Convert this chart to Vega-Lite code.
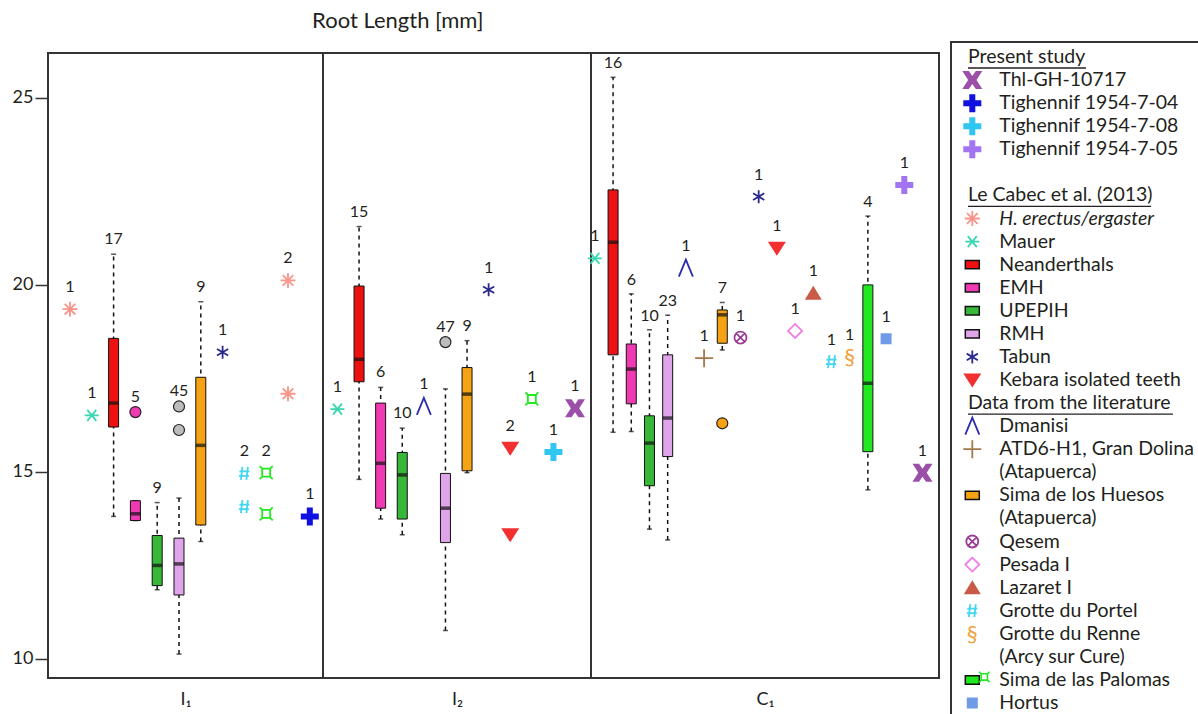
{
"$schema": "https://vega.github.io/schema/vega-lite/v6.json",
"padding": {"left": 11, "top": 10, "right": 0, "bottom": 0},
"background": "white",
"title": {"text": "Root Length [mm]", "anchor": "start", "frame": "bounds", "dx": 301, "fontSize": 22, "fontWeight": "normal", "color": "#231f20", "offset": 8},
"config": {"font": "Lato", "view": {"stroke": "#333333", "strokeWidth": 2}, "text": {"font": "Lato"}, "axis": {"labelFont": "Lato", "titleFont": "Lato"}},
"datasets": {
"boxes": [
{"tooth":"I1","slot":"Nea","group":"Neanderthals","lo":13.81,"q1":16.2,"med":16.84,"q3":18.57,"hi":20.82},
{"tooth":"I1","slot":"EMH","group":"EMH","lo":13.7,"q1":13.7,"med":13.88,"q3":14.23,"hi":14.23},
{"tooth":"I1","slot":"UPEPIH","group":"UPEPIH","lo":11.85,"q1":11.96,"med":12.5,"q3":13.3,"hi":14.18},
{"tooth":"I1","slot":"RMH","group":"RMH","lo":10.13,"q1":11.71,"med":12.54,"q3":13.23,"hi":14.3},
{"tooth":"I1","slot":"SH","group":"Sima de los Huesos","lo":13.14,"q1":13.58,"med":15.71,"q3":17.53,"hi":19.55},
{"tooth":"I2","slot":"Nea","group":"Neanderthals","lo":14.8,"q1":17.41,"med":18.01,"q3":19.97,"hi":21.56},
{"tooth":"I2","slot":"EMH","group":"EMH","lo":13.74,"q1":14.03,"med":15.23,"q3":16.84,"hi":17.26},
{"tooth":"I2","slot":"UPEPIH","group":"UPEPIH","lo":13.32,"q1":13.74,"med":14.92,"q3":15.52,"hi":16.17},
{"tooth":"I2","slot":"RMH","group":"RMH","lo":10.76,"q1":13.11,"med":14.03,"q3":14.96,"hi":17.22},
{"tooth":"I2","slot":"SH","group":"Sima de los Huesos","lo":14.98,"q1":15.03,"med":17.08,"q3":17.79,"hi":18.51},
{"tooth":"C1","slot":"Nea","group":"Neanderthals","lo":16.06,"q1":18.13,"med":21.14,"q3":22.54,"hi":25.55},
{"tooth":"C1","slot":"EMH","group":"EMH","lo":16.08,"q1":16.82,"med":17.75,"q3":18.42,"hi":19.76},
{"tooth":"C1","slot":"UPEPIH","group":"UPEPIH","lo":13.47,"q1":14.63,"med":15.77,"q3":16.5,"hi":18.8},
{"tooth":"C1","slot":"RMH","group":"RMH","lo":13.18,"q1":15.41,"med":16.44,"q3":18.13,"hi":19.19},
{"tooth":"C1","slot":"SH","group":"Sima de los Huesos","lo":18.26,"q1":18.44,"med":19.2,"q3":19.33,"hi":19.53},
{"tooth":"C1","slot":"Palomas","group":"Sima de las Palomas","lo":14.52,"q1":15.54,"med":17.37,"q3":20.0,"hi":21.84}
],
"points": [
{"tooth":"I1","slot":"erA","group":"H. erectus/ergaster","value":19.35},
{"tooth":"I1","slot":"Mauer","group":"Mauer","value":16.51},
{"tooth":"I1","slot":"Tabun","group":"Tabun","value":18.2},
{"tooth":"I1","slot":"Portel","group":"Grotte du Portel","value":14.96},
{"tooth":"I1","slot":"Portel","group":"Grotte du Portel","value":14.07},
{"tooth":"I1","slot":"Palomas","group":"Sima de las Palomas","value":14.98},
{"tooth":"I1","slot":"Palomas","group":"Sima de las Palomas","value":13.88},
{"tooth":"I1","slot":"erB","group":"H. erectus/ergaster","value":20.12},
{"tooth":"I1","slot":"erB","group":"H. erectus/ergaster","value":17.09},
{"tooth":"I1","slot":"T04","group":"Tighennif 1954-7-04","value":13.81},
{"tooth":"I2","slot":"Mauer","group":"Mauer","value":16.68},
{"tooth":"I2","slot":"Dmanisi","group":"Dmanisi","value":16.75},
{"tooth":"I2","slot":"Tabun","group":"Tabun","value":19.87},
{"tooth":"I2","slot":"Kebara","group":"Kebara isolated teeth","value":15.63},
{"tooth":"I2","slot":"Kebara","group":"Kebara isolated teeth","value":13.32},
{"tooth":"I2","slot":"Palomas","group":"Sima de las Palomas","value":16.95},
{"tooth":"I2","slot":"T08","group":"Tighennif 1954-7-08","value":15.53},
{"tooth":"I2","slot":"Thl","group":"Thl-GH-10717","value":16.7},
{"tooth":"C1","slot":"Mauer","group":"Mauer","value":20.71},
{"tooth":"C1","slot":"Dmanisi","group":"Dmanisi","value":20.45},
{"tooth":"C1","slot":"ATD6","group":"ATD6-H1, Gran Dolina","value":18.04},
{"tooth":"C1","slot":"Qesem","group":"Qesem","value":18.59},
{"tooth":"C1","slot":"Tabun","group":"Tabun","value":22.36},
{"tooth":"C1","slot":"Kebara","group":"Kebara isolated teeth","value":20.98},
{"tooth":"C1","slot":"Pesada","group":"Pesada I","value":18.77},
{"tooth":"C1","slot":"Lazaret","group":"Lazaret I","value":19.78},
{"tooth":"C1","slot":"Portel","group":"Grotte du Portel","value":17.95},
{"tooth":"C1","slot":"Renne","group":"Grotte du Renne","value":18.07},
{"tooth":"C1","slot":"Hortus","group":"Hortus","value":18.56},
{"tooth":"C1","slot":"T05","group":"Tighennif 1954-7-05","value":22.67},
{"tooth":"C1","slot":"Thl","group":"Thl-GH-10717","value":14.98}
],
"outliers": [
{"tooth":"I1","slot":"EMH","group":"EMH","value":16.6},
{"tooth":"I1","slot":"RMH","group":"RMH","value":16.75},
{"tooth":"I1","slot":"RMH","group":"RMH","value":16.12},
{"tooth":"I2","slot":"RMH","group":"RMH","value":18.47},
{"tooth":"C1","slot":"SH","group":"Sima de los Huesos","value":16.3}
],
"labels": [
{"tooth":"I1","slot":"erA","group":"H. erectus/ergaster","n":1,"at":19.35},
{"tooth":"I1","slot":"Mauer","group":"Mauer","n":1,"at":16.51},
{"tooth":"I1","slot":"Nea","group":"Neanderthals","n":17,"at":20.82},
{"tooth":"I1","slot":"EMH","group":"EMH","n":5,"at":16.6},
{"tooth":"I1","slot":"UPEPIH","group":"UPEPIH","n":9,"at":14.18},
{"tooth":"I1","slot":"RMH","group":"RMH","n":45,"at":16.75},
{"tooth":"I1","slot":"SH","group":"Sima de los Huesos","n":9,"at":19.55},
{"tooth":"I1","slot":"Tabun","group":"Tabun","n":1,"at":18.2},
{"tooth":"I1","slot":"Portel","group":"Grotte du Portel","n":2,"at":14.96},
{"tooth":"I1","slot":"Palomas","group":"Sima de las Palomas","n":2,"at":14.98},
{"tooth":"I1","slot":"erB","group":"H. erectus/ergaster","n":2,"at":20.12},
{"tooth":"I1","slot":"T04","group":"Tighennif 1954-7-04","n":1,"at":13.81},
{"tooth":"I2","slot":"Mauer","group":"Mauer","n":1,"at":16.68},
{"tooth":"I2","slot":"Nea","group":"Neanderthals","n":15,"at":21.56},
{"tooth":"I2","slot":"EMH","group":"EMH","n":6,"at":17.26},
{"tooth":"I2","slot":"UPEPIH","group":"UPEPIH","n":10,"at":16.17},
{"tooth":"I2","slot":"Dmanisi","group":"Dmanisi","n":1,"at":16.75},
{"tooth":"I2","slot":"RMH","group":"RMH","n":47,"at":18.47},
{"tooth":"I2","slot":"SH","group":"Sima de los Huesos","n":9,"at":18.51},
{"tooth":"I2","slot":"Tabun","group":"Tabun","n":1,"at":19.87},
{"tooth":"I2","slot":"Kebara","group":"Kebara isolated teeth","n":2,"at":15.63},
{"tooth":"I2","slot":"Palomas","group":"Sima de las Palomas","n":1,"at":16.95},
{"tooth":"I2","slot":"T08","group":"Tighennif 1954-7-08","n":1,"at":15.53},
{"tooth":"I2","slot":"Thl","group":"Thl-GH-10717","n":1,"at":16.7},
{"tooth":"C1","slot":"Mauer","group":"Mauer","n":1,"at":20.71},
{"tooth":"C1","slot":"Nea","group":"Neanderthals","n":16,"at":25.55},
{"tooth":"C1","slot":"EMH","group":"EMH","n":6,"at":19.76},
{"tooth":"C1","slot":"UPEPIH","group":"UPEPIH","n":10,"at":18.8},
{"tooth":"C1","slot":"RMH","group":"RMH","n":23,"at":19.19},
{"tooth":"C1","slot":"Dmanisi","group":"Dmanisi","n":1,"at":20.45},
{"tooth":"C1","slot":"ATD6","group":"ATD6-H1, Gran Dolina","n":1,"at":18.04},
{"tooth":"C1","slot":"SH","group":"Sima de los Huesos","n":7,"at":19.53},
{"tooth":"C1","slot":"Qesem","group":"Qesem","n":1,"at":18.59},
{"tooth":"C1","slot":"Tabun","group":"Tabun","n":1,"at":22.36},
{"tooth":"C1","slot":"Kebara","group":"Kebara isolated teeth","n":1,"at":20.98},
{"tooth":"C1","slot":"Pesada","group":"Pesada I","n":1,"at":18.77},
{"tooth":"C1","slot":"Lazaret","group":"Lazaret I","n":1,"at":19.78},
{"tooth":"C1","slot":"Portel","group":"Grotte du Portel","n":1,"at":17.95},
{"tooth":"C1","slot":"Renne","group":"Grotte du Renne","n":1,"at":18.07},
{"tooth":"C1","slot":"Palomas","group":"Sima de las Palomas","n":4,"at":21.84},
{"tooth":"C1","slot":"Hortus","group":"Hortus","n":1,"at":18.56},
{"tooth":"C1","slot":"T05","group":"Tighennif 1954-7-05","n":1,"at":22.67},
{"tooth":"C1","slot":"Thl","group":"Thl-GH-10717","n":1,"at":14.98}
],
"legend": [
{"key":"Present study","text":"Present study","kind":"head","group":null},
{"key":"Thl-GH-10717","text":"Thl-GH-10717","kind":"item","group":"Thl-GH-10717"},
{"key":"Tighennif 1954-7-04","text":"Tighennif 1954-7-04","kind":"item","group":"Tighennif 1954-7-04"},
{"key":"Tighennif 1954-7-08","text":"Tighennif 1954-7-08","kind":"item","group":"Tighennif 1954-7-08"},
{"key":"Tighennif 1954-7-05","text":"Tighennif 1954-7-05","kind":"item","group":"Tighennif 1954-7-05"},
{"key":"Le Cabec et al. (2013)","text":"Le Cabec et al. (2013)","kind":"head","group":null},
{"key":"H. erectus/ergaster","text":"H. erectus/ergaster","kind":"italic","group":"H. erectus/ergaster"},
{"key":"Mauer","text":"Mauer","kind":"item","group":"Mauer"},
{"key":"Neanderthals","text":"Neanderthals","kind":"item","group":"Neanderthals"},
{"key":"EMH","text":"EMH","kind":"item","group":"EMH"},
{"key":"UPEPIH","text":"UPEPIH","kind":"item","group":"UPEPIH"},
{"key":"RMH","text":"RMH","kind":"item","group":"RMH"},
{"key":"Tabun","text":"Tabun","kind":"item","group":"Tabun"},
{"key":"Kebara isolated teeth","text":"Kebara isolated teeth","kind":"item","group":"Kebara isolated teeth"},
{"key":"Data from the literature","text":"Data from the literature","kind":"head","group":null},
{"key":"Dmanisi","text":"Dmanisi","kind":"item","group":"Dmanisi"},
{"key":"ATD6-H1, Gran Dolina","text":"ATD6-H1, Gran Dolina","kind":"item","group":"ATD6-H1, Gran Dolina"},
{"key":"(Atapuerca) a","text":"(Atapuerca)","kind":"cont","group":null},
{"key":"Sima de los Huesos","text":"Sima de los Huesos","kind":"item","group":"Sima de los Huesos"},
{"key":"(Atapuerca) b","text":"(Atapuerca)","kind":"cont","group":null},
{"key":"Qesem","text":"Qesem","kind":"item","group":"Qesem"},
{"key":"Pesada I","text":"Pesada I","kind":"item","group":"Pesada I"},
{"key":"Lazaret I","text":"Lazaret I","kind":"item","group":"Lazaret I"},
{"key":"Grotte du Portel","text":"Grotte du Portel","kind":"item","group":"Grotte du Portel"},
{"key":"Grotte du Renne","text":"Grotte du Renne","kind":"item","group":"Grotte du Renne"},
{"key":"(Arcy sur Cure)","text":"(Arcy sur Cure)","kind":"cont","group":null},
{"key":"Sima de las Palomas","text":"Sima de las Palomas","kind":"item","group":"Sima de las Palomas"},
{"key":"Hortus","text":"Hortus","kind":"item","group":"Hortus"}
]
},
"hconcat": [
{"hconcat": [
{"width": 275, "height": 625,
 "encoding": {"x": {"field": "slot", "type": "nominal", "scale": {"type": "point", "domain": ["erA","Mauer","Nea","EMH","UPEPIH","RMH","SH","Tabun","Portel","Palomas","erB","T04"], "padding": 0.807, "align": 0.625}, "axis": {"title": "I₁", "labels": false, "ticks": false, "domain": false, "titleFontSize": 18, "titleFontWeight": "normal", "titleColor": "#231f20", "titlePadding": 12}}},
 "layer": [
  {"data": {"name": "boxes"}, "transform": [{"filter": "datum.tooth === 'I1'"}], "mark": {"type": "rule", "strokeDash": [4, 4], "color": "#111111", "strokeWidth": 1.5}, "encoding": {"y": {"field": "lo", "type": "quantitative", "scale": {"domain": [9.49, 26.2], "nice": false, "zero": false}, "axis": {"values": [10, 15, 20, 25], "title": null, "grid": false, "domain": false, "tickSize": 13, "tickWidth": 1.5, "tickColor": "#333333", "labelFontSize": 18, "labelColor": "#231f20", "labelPadding": 2}}, "y2": {"field": "hi"}}},
  {"data": {"name": "boxes"}, "transform": [{"filter": "datum.tooth === 'I1'"}], "mark": {"type": "tick", "color": "#111111", "size": 5, "thickness": 1.5}, "encoding": {"y": {"field": "lo", "type": "quantitative", "scale": {"domain": [9.49, 26.2], "nice": false, "zero": false}, "axis": {"values": [10, 15, 20, 25], "title": null, "grid": false, "domain": false, "tickSize": 13, "tickWidth": 1.5, "tickColor": "#333333", "labelFontSize": 18, "labelColor": "#231f20", "labelPadding": 2}}}},
  {"data": {"name": "boxes"}, "transform": [{"filter": "datum.tooth === 'I1'"}], "mark": {"type": "tick", "color": "#111111", "size": 5, "thickness": 1.5}, "encoding": {"y": {"field": "hi", "type": "quantitative", "scale": {"domain": [9.49, 26.2], "nice": false, "zero": false}, "axis": {"values": [10, 15, 20, 25], "title": null, "grid": false, "domain": false, "tickSize": 13, "tickWidth": 1.5, "tickColor": "#333333", "labelFontSize": 18, "labelColor": "#231f20", "labelPadding": 2}}}},
  {"data": {"name": "boxes"}, "transform": [{"filter": "datum.tooth === 'I1'"}], "mark": {"type": "bar", "size": 10, "stroke": "#111111", "strokeWidth": 1}, "encoding": {"y": {"field": "q1", "type": "quantitative", "scale": {"domain": [9.49, 26.2], "nice": false, "zero": false}, "axis": {"values": [10, 15, 20, 25], "title": null, "grid": false, "domain": false, "tickSize": 13, "tickWidth": 1.5, "tickColor": "#333333", "labelFontSize": 18, "labelColor": "#231f20", "labelPadding": 2}}, "y2": {"field": "q3"}, "color": {"field": "group", "type": "nominal", "legend": null, "scale": {"domain": ["Thl-GH-10717","Tighennif 1954-7-04","Tighennif 1954-7-08","Tighennif 1954-7-05","H. erectus/ergaster","Mauer","Neanderthals","EMH","UPEPIH","RMH","Tabun","Kebara isolated teeth","Dmanisi","ATD6-H1, Gran Dolina","Sima de los Huesos","Qesem","Pesada I","Lazaret I","Grotte du Portel","Grotte du Renne","Sima de las Palomas","Hortus"], "range": ["#9b4fa8","#1010e0","#30c6f2","#a274f2","#f6958a","#3ad8b0","#ee1111","#f03ab4","#38b838","#e0a4ea","#2a2a8e","#f23030","#2c2cb0","#a5774c","#f5a315","#9a3e98","#f07ee6","#c85a48","#40d6f2","#f0a038","#22e822","#6f9be6"]}}}},
  {"data": {"name": "boxes"}, "transform": [{"filter": "datum.tooth === 'I1'"}], "mark": {"type": "tick", "color": "#111111", "size": 10, "thickness": 3.5}, "encoding": {"y": {"field": "med", "type": "quantitative", "scale": {"domain": [9.49, 26.2], "nice": false, "zero": false}, "axis": {"values": [10, 15, 20, 25], "title": null, "grid": false, "domain": false, "tickSize": 13, "tickWidth": 1.5, "tickColor": "#333333", "labelFontSize": 18, "labelColor": "#231f20", "labelPadding": 2}}}},
  {"data": {"name": "outliers"}, "transform": [{"filter": "datum.tooth === 'I1'"}], "mark": {"type": "point", "shape": "circle", "filled": true, "stroke": "#222222", "strokeWidth": 1.2, "size": 121, "opacity": 1}, "encoding": {"y": {"field": "value", "type": "quantitative", "scale": {"domain": [9.49, 26.2], "nice": false, "zero": false}, "axis": {"values": [10, 15, 20, 25], "title": null, "grid": false, "domain": false, "tickSize": 13, "tickWidth": 1.5, "tickColor": "#333333", "labelFontSize": 18, "labelColor": "#231f20", "labelPadding": 2}}, "color": {"condition": {"test": "datum.group === 'RMH'", "value": "#bcbcbc"}, "field": "group", "type": "nominal", "legend": null, "scale": {"domain": ["Thl-GH-10717","Tighennif 1954-7-04","Tighennif 1954-7-08","Tighennif 1954-7-05","H. erectus/ergaster","Mauer","Neanderthals","EMH","UPEPIH","RMH","Tabun","Kebara isolated teeth","Dmanisi","ATD6-H1, Gran Dolina","Sima de los Huesos","Qesem","Pesada I","Lazaret I","Grotte du Portel","Grotte du Renne","Sima de las Palomas","Hortus"], "range": ["#9b4fa8","#1010e0","#30c6f2","#a274f2","#f6958a","#3ad8b0","#ee1111","#f03ab4","#38b838","#e0a4ea","#2a2a8e","#f23030","#2c2cb0","#a5774c","#f5a315","#9a3e98","#f07ee6","#c85a48","#40d6f2","#f0a038","#22e822","#6f9be6"]}}}},
  {"data": {"name": "points"}, "transform": [{"filter": "datum.tooth === 'I1'"}, {"filter": {"field": "group", "oneOf": ["Thl-GH-10717","Tighennif 1954-7-04","Tighennif 1954-7-08","Tighennif 1954-7-05","Kebara isolated teeth","Lazaret I","Hortus"]}}], "mark": {"type": "point", "filled": true, "size": 400, "opacity": 1, "strokeWidth": 0}, "encoding": {"y": {"field": "value", "type": "quantitative", "scale": {"domain": [9.49, 26.2], "nice": false, "zero": false}, "axis": {"values": [10, 15, 20, 25], "title": null, "grid": false, "domain": false, "tickSize": 13, "tickWidth": 1.5, "tickColor": "#333333", "labelFontSize": 18, "labelColor": "#231f20", "labelPadding": 2}}, "color": {"field": "group", "type": "nominal", "legend": null, "scale": {"domain": ["Thl-GH-10717","Tighennif 1954-7-04","Tighennif 1954-7-08","Tighennif 1954-7-05","H. erectus/ergaster","Mauer","Neanderthals","EMH","UPEPIH","RMH","Tabun","Kebara isolated teeth","Dmanisi","ATD6-H1, Gran Dolina","Sima de los Huesos","Qesem","Pesada I","Lazaret I","Grotte du Portel","Grotte du Renne","Sima de las Palomas","Hortus"], "range": ["#9b4fa8","#1010e0","#30c6f2","#a274f2","#f6958a","#3ad8b0","#ee1111","#f03ab4","#38b838","#e0a4ea","#2a2a8e","#f23030","#2c2cb0","#a5774c","#f5a315","#9a3e98","#f07ee6","#c85a48","#40d6f2","#f0a038","#22e822","#6f9be6"]}}, "shape": {"field": "group", "type": "nominal", "legend": null, "scale": {"domain": ["Thl-GH-10717","Tighennif 1954-7-04","Tighennif 1954-7-08","Tighennif 1954-7-05","H. erectus/ergaster","Mauer","Neanderthals","EMH","UPEPIH","RMH","Tabun","Kebara isolated teeth","Dmanisi","ATD6-H1, Gran Dolina","Sima de los Huesos","Qesem","Pesada I","Lazaret I","Grotte du Portel","Grotte du Renne","Sima de las Palomas","Hortus"], "range": ["M-1,-0.9L-0.35,-0.9L0,-0.4L0.35,-0.9L1,-0.9L0.42,0L1,0.9L0.35,0.9L0,0.4L-0.35,0.9L-1,0.9L-0.42,0Z","M-0.3,-0.9L0.3,-0.9L0.3,-0.3L0.9,-0.3L0.9,0.3L0.3,0.3L0.3,0.9L-0.3,0.9L-0.3,0.3L-0.9,0.3L-0.9,-0.3L-0.3,-0.3Z","M-0.3,-0.9L0.3,-0.9L0.3,-0.3L0.9,-0.3L0.9,0.3L0.3,0.3L0.3,0.9L-0.3,0.9L-0.3,0.3L-0.9,0.3L-0.9,-0.3L-0.3,-0.3Z","M-0.3,-0.9L0.3,-0.9L0.3,-0.3L0.9,-0.3L0.9,0.3L0.3,0.3L0.3,0.9L-0.3,0.9L-0.3,0.3L-0.9,0.3L-0.9,-0.3L-0.3,-0.3Z","M-0.75,0L0.75,0M0,-0.75L0,0.75M-0.53,-0.53L0.53,0.53M-0.53,0.53L0.53,-0.53","M-0.7,0L0.7,0M-0.45,-0.55L0.45,0.55M-0.45,0.55L0.45,-0.55","square","square","square","square","M0,-0.65L0,0.65M-0.56,-0.33L0.56,0.33M-0.56,0.33L0.56,-0.33","M-0.9,-0.65L0.9,-0.65L0,0.75Z","M-0.7,0.85L0,-0.85L0.7,0.85","M-0.9,0L0.9,0M0,-0.9L0,0.9","square","M0.6,0A0.6,0.6 0 1,1 -0.6,0A0.6,0.6 0 1,1 0.6,0ZM-0.42,-0.42L0.42,0.42M-0.42,0.42L0.42,-0.42","M0,-0.7L0.7,0L0,0.7L-0.7,0Z","M-0.85,0.65L0.85,0.65L0,-0.75Z","M-0.2,-0.65L-0.35,0.65M0.35,-0.65L0.2,0.65M-0.5,-0.2L0.5,-0.2M-0.55,0.25L0.45,0.25","circle","M-0.4,-0.4L0.4,-0.4L0.4,0.4L-0.4,0.4ZM-0.4,-0.4L-0.65,-0.65M0.4,-0.4L0.65,-0.65M0.4,0.4L0.65,0.65M-0.4,0.4L-0.65,0.65","M-0.55,-0.55L0.55,-0.55L0.55,0.55L-0.55,0.55Z"]}}}},
  {"data": {"name": "points"}, "transform": [{"filter": "datum.tooth === 'I1'"}, {"filter": {"field": "group", "oneOf": ["H. erectus/ergaster","Mauer","Tabun","Dmanisi","ATD6-H1, Gran Dolina","Qesem","Pesada I","Grotte du Portel","Sima de las Palomas"]}}], "mark": {"type": "point", "filled": false, "size": 400, "opacity": 1, "strokeWidth": 1.8}, "encoding": {"y": {"field": "value", "type": "quantitative", "scale": {"domain": [9.49, 26.2], "nice": false, "zero": false}, "axis": {"values": [10, 15, 20, 25], "title": null, "grid": false, "domain": false, "tickSize": 13, "tickWidth": 1.5, "tickColor": "#333333", "labelFontSize": 18, "labelColor": "#231f20", "labelPadding": 2}}, "color": {"field": "group", "type": "nominal", "legend": null, "scale": {"domain": ["Thl-GH-10717","Tighennif 1954-7-04","Tighennif 1954-7-08","Tighennif 1954-7-05","H. erectus/ergaster","Mauer","Neanderthals","EMH","UPEPIH","RMH","Tabun","Kebara isolated teeth","Dmanisi","ATD6-H1, Gran Dolina","Sima de los Huesos","Qesem","Pesada I","Lazaret I","Grotte du Portel","Grotte du Renne","Sima de las Palomas","Hortus"], "range": ["#9b4fa8","#1010e0","#30c6f2","#a274f2","#f6958a","#3ad8b0","#ee1111","#f03ab4","#38b838","#e0a4ea","#2a2a8e","#f23030","#2c2cb0","#a5774c","#f5a315","#9a3e98","#f07ee6","#c85a48","#40d6f2","#f0a038","#22e822","#6f9be6"]}}, "shape": {"field": "group", "type": "nominal", "legend": null, "scale": {"domain": ["Thl-GH-10717","Tighennif 1954-7-04","Tighennif 1954-7-08","Tighennif 1954-7-05","H. erectus/ergaster","Mauer","Neanderthals","EMH","UPEPIH","RMH","Tabun","Kebara isolated teeth","Dmanisi","ATD6-H1, Gran Dolina","Sima de los Huesos","Qesem","Pesada I","Lazaret I","Grotte du Portel","Grotte du Renne","Sima de las Palomas","Hortus"], "range": ["M-1,-0.9L-0.35,-0.9L0,-0.4L0.35,-0.9L1,-0.9L0.42,0L1,0.9L0.35,0.9L0,0.4L-0.35,0.9L-1,0.9L-0.42,0Z","M-0.3,-0.9L0.3,-0.9L0.3,-0.3L0.9,-0.3L0.9,0.3L0.3,0.3L0.3,0.9L-0.3,0.9L-0.3,0.3L-0.9,0.3L-0.9,-0.3L-0.3,-0.3Z","M-0.3,-0.9L0.3,-0.9L0.3,-0.3L0.9,-0.3L0.9,0.3L0.3,0.3L0.3,0.9L-0.3,0.9L-0.3,0.3L-0.9,0.3L-0.9,-0.3L-0.3,-0.3Z","M-0.3,-0.9L0.3,-0.9L0.3,-0.3L0.9,-0.3L0.9,0.3L0.3,0.3L0.3,0.9L-0.3,0.9L-0.3,0.3L-0.9,0.3L-0.9,-0.3L-0.3,-0.3Z","M-0.75,0L0.75,0M0,-0.75L0,0.75M-0.53,-0.53L0.53,0.53M-0.53,0.53L0.53,-0.53","M-0.7,0L0.7,0M-0.45,-0.55L0.45,0.55M-0.45,0.55L0.45,-0.55","square","square","square","square","M0,-0.65L0,0.65M-0.56,-0.33L0.56,0.33M-0.56,0.33L0.56,-0.33","M-0.9,-0.65L0.9,-0.65L0,0.75Z","M-0.7,0.85L0,-0.85L0.7,0.85","M-0.9,0L0.9,0M0,-0.9L0,0.9","square","M0.6,0A0.6,0.6 0 1,1 -0.6,0A0.6,0.6 0 1,1 0.6,0ZM-0.42,-0.42L0.42,0.42M-0.42,0.42L0.42,-0.42","M0,-0.7L0.7,0L0,0.7L-0.7,0Z","M-0.85,0.65L0.85,0.65L0,-0.75Z","M-0.2,-0.65L-0.35,0.65M0.35,-0.65L0.2,0.65M-0.5,-0.2L0.5,-0.2M-0.55,0.25L0.45,0.25","circle","M-0.4,-0.4L0.4,-0.4L0.4,0.4L-0.4,0.4ZM-0.4,-0.4L-0.65,-0.65M0.4,-0.4L0.65,-0.65M0.4,0.4L0.65,0.65M-0.4,0.4L-0.65,0.65","M-0.55,-0.55L0.55,-0.55L0.55,0.55L-0.55,0.55Z"]}}}},
  {"data": {"name": "labels"}, "transform": [{"filter": "datum.tooth === 'I1' && (datum.group === 'Neanderthals' || datum.group === 'EMH' || datum.group === 'UPEPIH' || datum.group === 'RMH' || datum.group === 'Sima de los Huesos')"}], "mark": {"type": "text", "dy": -15, "fontSize": 16, "color": "#231f20"}, "encoding": {"y": {"field": "at", "type": "quantitative", "scale": {"domain": [9.49, 26.2], "nice": false, "zero": false}, "axis": {"values": [10, 15, 20, 25], "title": null, "grid": false, "domain": false, "tickSize": 13, "tickWidth": 1.5, "tickColor": "#333333", "labelFontSize": 18, "labelColor": "#231f20", "labelPadding": 2}}, "text": {"field": "n", "type": "quantitative"}}},
  {"data": {"name": "labels"}, "transform": [{"filter": "datum.tooth === 'I1' && !(datum.group === 'Neanderthals' || datum.group === 'EMH' || datum.group === 'UPEPIH' || datum.group === 'RMH' || datum.group === 'Sima de los Huesos')"}], "mark": {"type": "text", "dy": -22, "fontSize": 16, "color": "#231f20"}, "encoding": {"y": {"field": "at", "type": "quantitative", "scale": {"domain": [9.49, 26.2], "nice": false, "zero": false}, "axis": {"values": [10, 15, 20, 25], "title": null, "grid": false, "domain": false, "tickSize": 13, "tickWidth": 1.5, "tickColor": "#333333", "labelFontSize": 18, "labelColor": "#231f20", "labelPadding": 2}}, "text": {"field": "n", "type": "quantitative"}}}
 ]
},
{"width": 268, "height": 625,
 "encoding": {"x": {"field": "slot", "type": "nominal", "scale": {"type": "point", "domain": ["Mauer","Nea","EMH","UPEPIH","Dmanisi","RMH","SH","Tabun","Kebara","Palomas","T08","Thl"], "padding": 0.705, "align": 0.475}, "axis": {"title": "I₂", "labels": false, "ticks": false, "domain": false, "titleFontSize": 18, "titleFontWeight": "normal", "titleColor": "#231f20", "titlePadding": 12}}},
 "layer": [
  {"data": {"name": "boxes"}, "transform": [{"filter": "datum.tooth === 'I2'"}], "mark": {"type": "rule", "strokeDash": [4, 4], "color": "#111111", "strokeWidth": 1.5}, "encoding": {"y": {"field": "lo", "type": "quantitative", "scale": {"domain": [9.49, 26.2], "nice": false, "zero": false}, "axis": null}, "y2": {"field": "hi"}}},
  {"data": {"name": "boxes"}, "transform": [{"filter": "datum.tooth === 'I2'"}], "mark": {"type": "tick", "color": "#111111", "size": 5, "thickness": 1.5}, "encoding": {"y": {"field": "lo", "type": "quantitative", "scale": {"domain": [9.49, 26.2], "nice": false, "zero": false}, "axis": null}}},
  {"data": {"name": "boxes"}, "transform": [{"filter": "datum.tooth === 'I2'"}], "mark": {"type": "tick", "color": "#111111", "size": 5, "thickness": 1.5}, "encoding": {"y": {"field": "hi", "type": "quantitative", "scale": {"domain": [9.49, 26.2], "nice": false, "zero": false}, "axis": null}}},
  {"data": {"name": "boxes"}, "transform": [{"filter": "datum.tooth === 'I2'"}], "mark": {"type": "bar", "size": 10, "stroke": "#111111", "strokeWidth": 1}, "encoding": {"y": {"field": "q1", "type": "quantitative", "scale": {"domain": [9.49, 26.2], "nice": false, "zero": false}, "axis": null}, "y2": {"field": "q3"}, "color": {"field": "group", "type": "nominal", "legend": null, "scale": {"domain": ["Thl-GH-10717","Tighennif 1954-7-04","Tighennif 1954-7-08","Tighennif 1954-7-05","H. erectus/ergaster","Mauer","Neanderthals","EMH","UPEPIH","RMH","Tabun","Kebara isolated teeth","Dmanisi","ATD6-H1, Gran Dolina","Sima de los Huesos","Qesem","Pesada I","Lazaret I","Grotte du Portel","Grotte du Renne","Sima de las Palomas","Hortus"], "range": ["#9b4fa8","#1010e0","#30c6f2","#a274f2","#f6958a","#3ad8b0","#ee1111","#f03ab4","#38b838","#e0a4ea","#2a2a8e","#f23030","#2c2cb0","#a5774c","#f5a315","#9a3e98","#f07ee6","#c85a48","#40d6f2","#f0a038","#22e822","#6f9be6"]}}}},
  {"data": {"name": "boxes"}, "transform": [{"filter": "datum.tooth === 'I2'"}], "mark": {"type": "tick", "color": "#111111", "size": 10, "thickness": 3.5}, "encoding": {"y": {"field": "med", "type": "quantitative", "scale": {"domain": [9.49, 26.2], "nice": false, "zero": false}, "axis": null}}},
  {"data": {"name": "outliers"}, "transform": [{"filter": "datum.tooth === 'I2'"}], "mark": {"type": "point", "shape": "circle", "filled": true, "stroke": "#222222", "strokeWidth": 1.2, "size": 121, "opacity": 1}, "encoding": {"y": {"field": "value", "type": "quantitative", "scale": {"domain": [9.49, 26.2], "nice": false, "zero": false}, "axis": null}, "color": {"condition": {"test": "datum.group === 'RMH'", "value": "#bcbcbc"}, "field": "group", "type": "nominal", "legend": null, "scale": {"domain": ["Thl-GH-10717","Tighennif 1954-7-04","Tighennif 1954-7-08","Tighennif 1954-7-05","H. erectus/ergaster","Mauer","Neanderthals","EMH","UPEPIH","RMH","Tabun","Kebara isolated teeth","Dmanisi","ATD6-H1, Gran Dolina","Sima de los Huesos","Qesem","Pesada I","Lazaret I","Grotte du Portel","Grotte du Renne","Sima de las Palomas","Hortus"], "range": ["#9b4fa8","#1010e0","#30c6f2","#a274f2","#f6958a","#3ad8b0","#ee1111","#f03ab4","#38b838","#e0a4ea","#2a2a8e","#f23030","#2c2cb0","#a5774c","#f5a315","#9a3e98","#f07ee6","#c85a48","#40d6f2","#f0a038","#22e822","#6f9be6"]}}}},
  {"data": {"name": "points"}, "transform": [{"filter": "datum.tooth === 'I2'"}, {"filter": {"field": "group", "oneOf": ["Thl-GH-10717","Tighennif 1954-7-04","Tighennif 1954-7-08","Tighennif 1954-7-05","Kebara isolated teeth","Lazaret I","Hortus"]}}], "mark": {"type": "point", "filled": true, "size": 400, "opacity": 1, "strokeWidth": 0}, "encoding": {"y": {"field": "value", "type": "quantitative", "scale": {"domain": [9.49, 26.2], "nice": false, "zero": false}, "axis": null}, "color": {"field": "group", "type": "nominal", "legend": null, "scale": {"domain": ["Thl-GH-10717","Tighennif 1954-7-04","Tighennif 1954-7-08","Tighennif 1954-7-05","H. erectus/ergaster","Mauer","Neanderthals","EMH","UPEPIH","RMH","Tabun","Kebara isolated teeth","Dmanisi","ATD6-H1, Gran Dolina","Sima de los Huesos","Qesem","Pesada I","Lazaret I","Grotte du Portel","Grotte du Renne","Sima de las Palomas","Hortus"], "range": ["#9b4fa8","#1010e0","#30c6f2","#a274f2","#f6958a","#3ad8b0","#ee1111","#f03ab4","#38b838","#e0a4ea","#2a2a8e","#f23030","#2c2cb0","#a5774c","#f5a315","#9a3e98","#f07ee6","#c85a48","#40d6f2","#f0a038","#22e822","#6f9be6"]}}, "shape": {"field": "group", "type": "nominal", "legend": null, "scale": {"domain": ["Thl-GH-10717","Tighennif 1954-7-04","Tighennif 1954-7-08","Tighennif 1954-7-05","H. erectus/ergaster","Mauer","Neanderthals","EMH","UPEPIH","RMH","Tabun","Kebara isolated teeth","Dmanisi","ATD6-H1, Gran Dolina","Sima de los Huesos","Qesem","Pesada I","Lazaret I","Grotte du Portel","Grotte du Renne","Sima de las Palomas","Hortus"], "range": ["M-1,-0.9L-0.35,-0.9L0,-0.4L0.35,-0.9L1,-0.9L0.42,0L1,0.9L0.35,0.9L0,0.4L-0.35,0.9L-1,0.9L-0.42,0Z","M-0.3,-0.9L0.3,-0.9L0.3,-0.3L0.9,-0.3L0.9,0.3L0.3,0.3L0.3,0.9L-0.3,0.9L-0.3,0.3L-0.9,0.3L-0.9,-0.3L-0.3,-0.3Z","M-0.3,-0.9L0.3,-0.9L0.3,-0.3L0.9,-0.3L0.9,0.3L0.3,0.3L0.3,0.9L-0.3,0.9L-0.3,0.3L-0.9,0.3L-0.9,-0.3L-0.3,-0.3Z","M-0.3,-0.9L0.3,-0.9L0.3,-0.3L0.9,-0.3L0.9,0.3L0.3,0.3L0.3,0.9L-0.3,0.9L-0.3,0.3L-0.9,0.3L-0.9,-0.3L-0.3,-0.3Z","M-0.75,0L0.75,0M0,-0.75L0,0.75M-0.53,-0.53L0.53,0.53M-0.53,0.53L0.53,-0.53","M-0.7,0L0.7,0M-0.45,-0.55L0.45,0.55M-0.45,0.55L0.45,-0.55","square","square","square","square","M0,-0.65L0,0.65M-0.56,-0.33L0.56,0.33M-0.56,0.33L0.56,-0.33","M-0.9,-0.65L0.9,-0.65L0,0.75Z","M-0.7,0.85L0,-0.85L0.7,0.85","M-0.9,0L0.9,0M0,-0.9L0,0.9","square","M0.6,0A0.6,0.6 0 1,1 -0.6,0A0.6,0.6 0 1,1 0.6,0ZM-0.42,-0.42L0.42,0.42M-0.42,0.42L0.42,-0.42","M0,-0.7L0.7,0L0,0.7L-0.7,0Z","M-0.85,0.65L0.85,0.65L0,-0.75Z","M-0.2,-0.65L-0.35,0.65M0.35,-0.65L0.2,0.65M-0.5,-0.2L0.5,-0.2M-0.55,0.25L0.45,0.25","circle","M-0.4,-0.4L0.4,-0.4L0.4,0.4L-0.4,0.4ZM-0.4,-0.4L-0.65,-0.65M0.4,-0.4L0.65,-0.65M0.4,0.4L0.65,0.65M-0.4,0.4L-0.65,0.65","M-0.55,-0.55L0.55,-0.55L0.55,0.55L-0.55,0.55Z"]}}}},
  {"data": {"name": "points"}, "transform": [{"filter": "datum.tooth === 'I2'"}, {"filter": {"field": "group", "oneOf": ["H. erectus/ergaster","Mauer","Tabun","Dmanisi","ATD6-H1, Gran Dolina","Qesem","Pesada I","Grotte du Portel","Sima de las Palomas"]}}], "mark": {"type": "point", "filled": false, "size": 400, "opacity": 1, "strokeWidth": 1.8}, "encoding": {"y": {"field": "value", "type": "quantitative", "scale": {"domain": [9.49, 26.2], "nice": false, "zero": false}, "axis": null}, "color": {"field": "group", "type": "nominal", "legend": null, "scale": {"domain": ["Thl-GH-10717","Tighennif 1954-7-04","Tighennif 1954-7-08","Tighennif 1954-7-05","H. erectus/ergaster","Mauer","Neanderthals","EMH","UPEPIH","RMH","Tabun","Kebara isolated teeth","Dmanisi","ATD6-H1, Gran Dolina","Sima de los Huesos","Qesem","Pesada I","Lazaret I","Grotte du Portel","Grotte du Renne","Sima de las Palomas","Hortus"], "range": ["#9b4fa8","#1010e0","#30c6f2","#a274f2","#f6958a","#3ad8b0","#ee1111","#f03ab4","#38b838","#e0a4ea","#2a2a8e","#f23030","#2c2cb0","#a5774c","#f5a315","#9a3e98","#f07ee6","#c85a48","#40d6f2","#f0a038","#22e822","#6f9be6"]}}, "shape": {"field": "group", "type": "nominal", "legend": null, "scale": {"domain": ["Thl-GH-10717","Tighennif 1954-7-04","Tighennif 1954-7-08","Tighennif 1954-7-05","H. erectus/ergaster","Mauer","Neanderthals","EMH","UPEPIH","RMH","Tabun","Kebara isolated teeth","Dmanisi","ATD6-H1, Gran Dolina","Sima de los Huesos","Qesem","Pesada I","Lazaret I","Grotte du Portel","Grotte du Renne","Sima de las Palomas","Hortus"], "range": ["M-1,-0.9L-0.35,-0.9L0,-0.4L0.35,-0.9L1,-0.9L0.42,0L1,0.9L0.35,0.9L0,0.4L-0.35,0.9L-1,0.9L-0.42,0Z","M-0.3,-0.9L0.3,-0.9L0.3,-0.3L0.9,-0.3L0.9,0.3L0.3,0.3L0.3,0.9L-0.3,0.9L-0.3,0.3L-0.9,0.3L-0.9,-0.3L-0.3,-0.3Z","M-0.3,-0.9L0.3,-0.9L0.3,-0.3L0.9,-0.3L0.9,0.3L0.3,0.3L0.3,0.9L-0.3,0.9L-0.3,0.3L-0.9,0.3L-0.9,-0.3L-0.3,-0.3Z","M-0.3,-0.9L0.3,-0.9L0.3,-0.3L0.9,-0.3L0.9,0.3L0.3,0.3L0.3,0.9L-0.3,0.9L-0.3,0.3L-0.9,0.3L-0.9,-0.3L-0.3,-0.3Z","M-0.75,0L0.75,0M0,-0.75L0,0.75M-0.53,-0.53L0.53,0.53M-0.53,0.53L0.53,-0.53","M-0.7,0L0.7,0M-0.45,-0.55L0.45,0.55M-0.45,0.55L0.45,-0.55","square","square","square","square","M0,-0.65L0,0.65M-0.56,-0.33L0.56,0.33M-0.56,0.33L0.56,-0.33","M-0.9,-0.65L0.9,-0.65L0,0.75Z","M-0.7,0.85L0,-0.85L0.7,0.85","M-0.9,0L0.9,0M0,-0.9L0,0.9","square","M0.6,0A0.6,0.6 0 1,1 -0.6,0A0.6,0.6 0 1,1 0.6,0ZM-0.42,-0.42L0.42,0.42M-0.42,0.42L0.42,-0.42","M0,-0.7L0.7,0L0,0.7L-0.7,0Z","M-0.85,0.65L0.85,0.65L0,-0.75Z","M-0.2,-0.65L-0.35,0.65M0.35,-0.65L0.2,0.65M-0.5,-0.2L0.5,-0.2M-0.55,0.25L0.45,0.25","circle","M-0.4,-0.4L0.4,-0.4L0.4,0.4L-0.4,0.4ZM-0.4,-0.4L-0.65,-0.65M0.4,-0.4L0.65,-0.65M0.4,0.4L0.65,0.65M-0.4,0.4L-0.65,0.65","M-0.55,-0.55L0.55,-0.55L0.55,0.55L-0.55,0.55Z"]}}}},
  {"data": {"name": "labels"}, "transform": [{"filter": "datum.tooth === 'I2' && (datum.group === 'Neanderthals' || datum.group === 'EMH' || datum.group === 'UPEPIH' || datum.group === 'RMH' || datum.group === 'Sima de los Huesos')"}], "mark": {"type": "text", "dy": -15, "fontSize": 16, "color": "#231f20"}, "encoding": {"y": {"field": "at", "type": "quantitative", "scale": {"domain": [9.49, 26.2], "nice": false, "zero": false}, "axis": null}, "text": {"field": "n", "type": "quantitative"}}},
  {"data": {"name": "labels"}, "transform": [{"filter": "datum.tooth === 'I2' && !(datum.group === 'Neanderthals' || datum.group === 'EMH' || datum.group === 'UPEPIH' || datum.group === 'RMH' || datum.group === 'Sima de los Huesos')"}], "mark": {"type": "text", "dy": -22, "fontSize": 16, "color": "#231f20"}, "encoding": {"y": {"field": "at", "type": "quantitative", "scale": {"domain": [9.49, 26.2], "nice": false, "zero": false}, "axis": null}, "text": {"field": "n", "type": "quantitative"}}}
 ]
},
{"width": 348, "height": 625,
 "encoding": {"x": {"field": "slot", "type": "nominal", "scale": {"type": "point", "domain": ["Mauer","Nea","EMH","UPEPIH","RMH","Dmanisi","ATD6","SH","Qesem","Tabun","Kebara","Pesada","Lazaret","Portel","Renne","Palomas","Hortus","T05","Thl"], "padding": 0.56, "align": 0.19}, "axis": {"title": "C₁", "labels": false, "ticks": false, "domain": false, "titleFontSize": 18, "titleFontWeight": "normal", "titleColor": "#231f20", "titlePadding": 12}}},
 "layer": [
  {"data": {"name": "boxes"}, "transform": [{"filter": "datum.tooth === 'C1'"}], "mark": {"type": "rule", "strokeDash": [4, 4], "color": "#111111", "strokeWidth": 1.5}, "encoding": {"y": {"field": "lo", "type": "quantitative", "scale": {"domain": [9.49, 26.2], "nice": false, "zero": false}, "axis": null}, "y2": {"field": "hi"}}},
  {"data": {"name": "boxes"}, "transform": [{"filter": "datum.tooth === 'C1'"}], "mark": {"type": "tick", "color": "#111111", "size": 5, "thickness": 1.5}, "encoding": {"y": {"field": "lo", "type": "quantitative", "scale": {"domain": [9.49, 26.2], "nice": false, "zero": false}, "axis": null}}},
  {"data": {"name": "boxes"}, "transform": [{"filter": "datum.tooth === 'C1'"}], "mark": {"type": "tick", "color": "#111111", "size": 5, "thickness": 1.5}, "encoding": {"y": {"field": "hi", "type": "quantitative", "scale": {"domain": [9.49, 26.2], "nice": false, "zero": false}, "axis": null}}},
  {"data": {"name": "boxes"}, "transform": [{"filter": "datum.tooth === 'C1'"}], "mark": {"type": "bar", "size": 10, "stroke": "#111111", "strokeWidth": 1}, "encoding": {"y": {"field": "q1", "type": "quantitative", "scale": {"domain": [9.49, 26.2], "nice": false, "zero": false}, "axis": null}, "y2": {"field": "q3"}, "color": {"field": "group", "type": "nominal", "legend": null, "scale": {"domain": ["Thl-GH-10717","Tighennif 1954-7-04","Tighennif 1954-7-08","Tighennif 1954-7-05","H. erectus/ergaster","Mauer","Neanderthals","EMH","UPEPIH","RMH","Tabun","Kebara isolated teeth","Dmanisi","ATD6-H1, Gran Dolina","Sima de los Huesos","Qesem","Pesada I","Lazaret I","Grotte du Portel","Grotte du Renne","Sima de las Palomas","Hortus"], "range": ["#9b4fa8","#1010e0","#30c6f2","#a274f2","#f6958a","#3ad8b0","#ee1111","#f03ab4","#38b838","#e0a4ea","#2a2a8e","#f23030","#2c2cb0","#a5774c","#f5a315","#9a3e98","#f07ee6","#c85a48","#40d6f2","#f0a038","#22e822","#6f9be6"]}}}},
  {"data": {"name": "boxes"}, "transform": [{"filter": "datum.tooth === 'C1'"}], "mark": {"type": "tick", "color": "#111111", "size": 10, "thickness": 3.5}, "encoding": {"y": {"field": "med", "type": "quantitative", "scale": {"domain": [9.49, 26.2], "nice": false, "zero": false}, "axis": null}}},
  {"data": {"name": "outliers"}, "transform": [{"filter": "datum.tooth === 'C1'"}], "mark": {"type": "point", "shape": "circle", "filled": true, "stroke": "#222222", "strokeWidth": 1.2, "size": 121, "opacity": 1}, "encoding": {"y": {"field": "value", "type": "quantitative", "scale": {"domain": [9.49, 26.2], "nice": false, "zero": false}, "axis": null}, "color": {"condition": {"test": "datum.group === 'RMH'", "value": "#bcbcbc"}, "field": "group", "type": "nominal", "legend": null, "scale": {"domain": ["Thl-GH-10717","Tighennif 1954-7-04","Tighennif 1954-7-08","Tighennif 1954-7-05","H. erectus/ergaster","Mauer","Neanderthals","EMH","UPEPIH","RMH","Tabun","Kebara isolated teeth","Dmanisi","ATD6-H1, Gran Dolina","Sima de los Huesos","Qesem","Pesada I","Lazaret I","Grotte du Portel","Grotte du Renne","Sima de las Palomas","Hortus"], "range": ["#9b4fa8","#1010e0","#30c6f2","#a274f2","#f6958a","#3ad8b0","#ee1111","#f03ab4","#38b838","#e0a4ea","#2a2a8e","#f23030","#2c2cb0","#a5774c","#f5a315","#9a3e98","#f07ee6","#c85a48","#40d6f2","#f0a038","#22e822","#6f9be6"]}}}},
  {"data": {"name": "points"}, "transform": [{"filter": "datum.tooth === 'C1'"}, {"filter": {"field": "group", "oneOf": ["Thl-GH-10717","Tighennif 1954-7-04","Tighennif 1954-7-08","Tighennif 1954-7-05","Kebara isolated teeth","Lazaret I","Hortus"]}}], "mark": {"type": "point", "filled": true, "size": 400, "opacity": 1, "strokeWidth": 0}, "encoding": {"y": {"field": "value", "type": "quantitative", "scale": {"domain": [9.49, 26.2], "nice": false, "zero": false}, "axis": null}, "color": {"field": "group", "type": "nominal", "legend": null, "scale": {"domain": ["Thl-GH-10717","Tighennif 1954-7-04","Tighennif 1954-7-08","Tighennif 1954-7-05","H. erectus/ergaster","Mauer","Neanderthals","EMH","UPEPIH","RMH","Tabun","Kebara isolated teeth","Dmanisi","ATD6-H1, Gran Dolina","Sima de los Huesos","Qesem","Pesada I","Lazaret I","Grotte du Portel","Grotte du Renne","Sima de las Palomas","Hortus"], "range": ["#9b4fa8","#1010e0","#30c6f2","#a274f2","#f6958a","#3ad8b0","#ee1111","#f03ab4","#38b838","#e0a4ea","#2a2a8e","#f23030","#2c2cb0","#a5774c","#f5a315","#9a3e98","#f07ee6","#c85a48","#40d6f2","#f0a038","#22e822","#6f9be6"]}}, "shape": {"field": "group", "type": "nominal", "legend": null, "scale": {"domain": ["Thl-GH-10717","Tighennif 1954-7-04","Tighennif 1954-7-08","Tighennif 1954-7-05","H. erectus/ergaster","Mauer","Neanderthals","EMH","UPEPIH","RMH","Tabun","Kebara isolated teeth","Dmanisi","ATD6-H1, Gran Dolina","Sima de los Huesos","Qesem","Pesada I","Lazaret I","Grotte du Portel","Grotte du Renne","Sima de las Palomas","Hortus"], "range": ["M-1,-0.9L-0.35,-0.9L0,-0.4L0.35,-0.9L1,-0.9L0.42,0L1,0.9L0.35,0.9L0,0.4L-0.35,0.9L-1,0.9L-0.42,0Z","M-0.3,-0.9L0.3,-0.9L0.3,-0.3L0.9,-0.3L0.9,0.3L0.3,0.3L0.3,0.9L-0.3,0.9L-0.3,0.3L-0.9,0.3L-0.9,-0.3L-0.3,-0.3Z","M-0.3,-0.9L0.3,-0.9L0.3,-0.3L0.9,-0.3L0.9,0.3L0.3,0.3L0.3,0.9L-0.3,0.9L-0.3,0.3L-0.9,0.3L-0.9,-0.3L-0.3,-0.3Z","M-0.3,-0.9L0.3,-0.9L0.3,-0.3L0.9,-0.3L0.9,0.3L0.3,0.3L0.3,0.9L-0.3,0.9L-0.3,0.3L-0.9,0.3L-0.9,-0.3L-0.3,-0.3Z","M-0.75,0L0.75,0M0,-0.75L0,0.75M-0.53,-0.53L0.53,0.53M-0.53,0.53L0.53,-0.53","M-0.7,0L0.7,0M-0.45,-0.55L0.45,0.55M-0.45,0.55L0.45,-0.55","square","square","square","square","M0,-0.65L0,0.65M-0.56,-0.33L0.56,0.33M-0.56,0.33L0.56,-0.33","M-0.9,-0.65L0.9,-0.65L0,0.75Z","M-0.7,0.85L0,-0.85L0.7,0.85","M-0.9,0L0.9,0M0,-0.9L0,0.9","square","M0.6,0A0.6,0.6 0 1,1 -0.6,0A0.6,0.6 0 1,1 0.6,0ZM-0.42,-0.42L0.42,0.42M-0.42,0.42L0.42,-0.42","M0,-0.7L0.7,0L0,0.7L-0.7,0Z","M-0.85,0.65L0.85,0.65L0,-0.75Z","M-0.2,-0.65L-0.35,0.65M0.35,-0.65L0.2,0.65M-0.5,-0.2L0.5,-0.2M-0.55,0.25L0.45,0.25","circle","M-0.4,-0.4L0.4,-0.4L0.4,0.4L-0.4,0.4ZM-0.4,-0.4L-0.65,-0.65M0.4,-0.4L0.65,-0.65M0.4,0.4L0.65,0.65M-0.4,0.4L-0.65,0.65","M-0.55,-0.55L0.55,-0.55L0.55,0.55L-0.55,0.55Z"]}}}},
  {"data": {"name": "points"}, "transform": [{"filter": "datum.tooth === 'C1'"}, {"filter": {"field": "group", "oneOf": ["H. erectus/ergaster","Mauer","Tabun","Dmanisi","ATD6-H1, Gran Dolina","Qesem","Pesada I","Grotte du Portel","Sima de las Palomas"]}}], "mark": {"type": "point", "filled": false, "size": 400, "opacity": 1, "strokeWidth": 1.8}, "encoding": {"y": {"field": "value", "type": "quantitative", "scale": {"domain": [9.49, 26.2], "nice": false, "zero": false}, "axis": null}, "color": {"field": "group", "type": "nominal", "legend": null, "scale": {"domain": ["Thl-GH-10717","Tighennif 1954-7-04","Tighennif 1954-7-08","Tighennif 1954-7-05","H. erectus/ergaster","Mauer","Neanderthals","EMH","UPEPIH","RMH","Tabun","Kebara isolated teeth","Dmanisi","ATD6-H1, Gran Dolina","Sima de los Huesos","Qesem","Pesada I","Lazaret I","Grotte du Portel","Grotte du Renne","Sima de las Palomas","Hortus"], "range": ["#9b4fa8","#1010e0","#30c6f2","#a274f2","#f6958a","#3ad8b0","#ee1111","#f03ab4","#38b838","#e0a4ea","#2a2a8e","#f23030","#2c2cb0","#a5774c","#f5a315","#9a3e98","#f07ee6","#c85a48","#40d6f2","#f0a038","#22e822","#6f9be6"]}}, "shape": {"field": "group", "type": "nominal", "legend": null, "scale": {"domain": ["Thl-GH-10717","Tighennif 1954-7-04","Tighennif 1954-7-08","Tighennif 1954-7-05","H. erectus/ergaster","Mauer","Neanderthals","EMH","UPEPIH","RMH","Tabun","Kebara isolated teeth","Dmanisi","ATD6-H1, Gran Dolina","Sima de los Huesos","Qesem","Pesada I","Lazaret I","Grotte du Portel","Grotte du Renne","Sima de las Palomas","Hortus"], "range": ["M-1,-0.9L-0.35,-0.9L0,-0.4L0.35,-0.9L1,-0.9L0.42,0L1,0.9L0.35,0.9L0,0.4L-0.35,0.9L-1,0.9L-0.42,0Z","M-0.3,-0.9L0.3,-0.9L0.3,-0.3L0.9,-0.3L0.9,0.3L0.3,0.3L0.3,0.9L-0.3,0.9L-0.3,0.3L-0.9,0.3L-0.9,-0.3L-0.3,-0.3Z","M-0.3,-0.9L0.3,-0.9L0.3,-0.3L0.9,-0.3L0.9,0.3L0.3,0.3L0.3,0.9L-0.3,0.9L-0.3,0.3L-0.9,0.3L-0.9,-0.3L-0.3,-0.3Z","M-0.3,-0.9L0.3,-0.9L0.3,-0.3L0.9,-0.3L0.9,0.3L0.3,0.3L0.3,0.9L-0.3,0.9L-0.3,0.3L-0.9,0.3L-0.9,-0.3L-0.3,-0.3Z","M-0.75,0L0.75,0M0,-0.75L0,0.75M-0.53,-0.53L0.53,0.53M-0.53,0.53L0.53,-0.53","M-0.7,0L0.7,0M-0.45,-0.55L0.45,0.55M-0.45,0.55L0.45,-0.55","square","square","square","square","M0,-0.65L0,0.65M-0.56,-0.33L0.56,0.33M-0.56,0.33L0.56,-0.33","M-0.9,-0.65L0.9,-0.65L0,0.75Z","M-0.7,0.85L0,-0.85L0.7,0.85","M-0.9,0L0.9,0M0,-0.9L0,0.9","square","M0.6,0A0.6,0.6 0 1,1 -0.6,0A0.6,0.6 0 1,1 0.6,0ZM-0.42,-0.42L0.42,0.42M-0.42,0.42L0.42,-0.42","M0,-0.7L0.7,0L0,0.7L-0.7,0Z","M-0.85,0.65L0.85,0.65L0,-0.75Z","M-0.2,-0.65L-0.35,0.65M0.35,-0.65L0.2,0.65M-0.5,-0.2L0.5,-0.2M-0.55,0.25L0.45,0.25","circle","M-0.4,-0.4L0.4,-0.4L0.4,0.4L-0.4,0.4ZM-0.4,-0.4L-0.65,-0.65M0.4,-0.4L0.65,-0.65M0.4,0.4L0.65,0.65M-0.4,0.4L-0.65,0.65","M-0.55,-0.55L0.55,-0.55L0.55,0.55L-0.55,0.55Z"]}}}},
  {"data": {"name": "points"}, "transform": [{"filter": "datum.tooth === 'C1' && datum.group === 'Grotte du Renne'"}], "mark": {"type": "text", "text": "§", "fontSize": 22, "color": "#f0a038"}, "encoding": {"y": {"field": "value", "type": "quantitative", "scale": {"domain": [9.49, 26.2], "nice": false, "zero": false}, "axis": null}}},
  {"data": {"name": "labels"}, "transform": [{"filter": "datum.tooth === 'C1' && (datum.group === 'Neanderthals' || datum.group === 'EMH' || datum.group === 'UPEPIH' || datum.group === 'RMH' || datum.group === 'Sima de los Huesos' || datum.group === 'Sima de las Palomas')"}], "mark": {"type": "text", "dy": -14, "fontSize": 16, "color": "#231f20"}, "encoding": {"y": {"field": "at", "type": "quantitative", "scale": {"domain": [9.49, 26.2], "nice": false, "zero": false}, "axis": null}, "text": {"field": "n", "type": "quantitative"}}},
  {"data": {"name": "labels"}, "transform": [{"filter": "datum.tooth === 'C1' && !(datum.group === 'Neanderthals' || datum.group === 'EMH' || datum.group === 'UPEPIH' || datum.group === 'RMH' || datum.group === 'Sima de los Huesos' || datum.group === 'Sima de las Palomas')"}], "mark": {"type": "text", "dy": -22, "fontSize": 16, "color": "#231f20"}, "encoding": {"y": {"field": "at", "type": "quantitative", "scale": {"domain": [9.49, 26.2], "nice": false, "zero": false}, "axis": null}, "text": {"field": "n", "type": "quantitative"}}}
 ]
}
], "spacing": 0, "bounds": "flush"},
{"width": 255, "height": 677,
 "data": {"name": "legend"},
 "encoding": {"y": {"field": "key", "type": "nominal", "axis": null, "scale": {"type": "point", "padding": 0.672, "align": 0.484, "domain": ["Present study","Thl-GH-10717","Tighennif 1954-7-04","Tighennif 1954-7-08","Tighennif 1954-7-05","gap","Le Cabec et al. (2013)","H. erectus/ergaster","Mauer","Neanderthals","EMH","UPEPIH","RMH","Tabun","Kebara isolated teeth","Data from the literature","Dmanisi","ATD6-H1, Gran Dolina","(Atapuerca) a","Sima de los Huesos","(Atapuerca) b","Qesem","Pesada I","Lazaret I","Grotte du Portel","Grotte du Renne","(Arcy sur Cure)","Sima de las Palomas","Hortus"]}}},
 "layer": [
  {"transform": [{"filter": {"field": "kind", "equal": "head"}}], "mark": {"type": "text", "align": "left", "fontSize": 19.5, "color": "#231f20"}, "encoding": {"x": {"datum": -0.26, "type": "quantitative", "scale": {"domain": [-0.889, 8.556], "nice": false, "zero": false}, "axis": null}, "text": {"field": "text"}}},
  {"transform": [{"filter": {"field": "key", "equal": "Present study"}}], "mark": {"type": "rule", "yOffset": 11, "color": "#231f20", "strokeWidth": 1.3}, "encoding": {"x": {"datum": -0.26, "type": "quantitative", "scale": {"domain": [-0.889, 8.556], "nice": false, "zero": false}, "axis": null}, "x2": {"datum": 4.11}}},
  {"transform": [{"filter": {"field": "key", "equal": "Le Cabec et al. (2013)"}}], "mark": {"type": "rule", "yOffset": 11, "color": "#231f20", "strokeWidth": 1.3}, "encoding": {"x": {"datum": -0.26, "type": "quantitative", "scale": {"domain": [-0.889, 8.556], "nice": false, "zero": false}, "axis": null}, "x2": {"datum": 6.52}}},
  {"transform": [{"filter": {"field": "key", "equal": "Data from the literature"}}], "mark": {"type": "rule", "yOffset": 11, "color": "#231f20", "strokeWidth": 1.3}, "encoding": {"x": {"datum": -0.26, "type": "quantitative", "scale": {"domain": [-0.889, 8.556], "nice": false, "zero": false}, "axis": null}, "x2": {"datum": 7.33}}},
  {"transform": [{"filter": {"field": "kind", "oneOf": ["item", "cont"]}}], "mark": {"type": "text", "align": "left", "fontSize": 19.5, "color": "#231f20"}, "encoding": {"x": {"datum": 0.9, "type": "quantitative", "scale": {"domain": [-0.889, 8.556], "nice": false, "zero": false}, "axis": null}, "text": {"field": "text"}}},
  {"transform": [{"filter": {"field": "kind", "equal": "italic"}}], "mark": {"type": "text", "align": "left", "fontSize": 19.5, "fontStyle": "italic", "color": "#231f20"}, "encoding": {"x": {"datum": 0.9, "type": "quantitative", "scale": {"domain": [-0.889, 8.556], "nice": false, "zero": false}, "axis": null}, "text": {"field": "text"}}},
  {"transform": [{"filter": {"field": "group", "oneOf": ["Neanderthals","EMH","UPEPIH","RMH","Sima de los Huesos","Sima de las Palomas"]}}], "mark": {"type": "point", "filled": true, "size": 400, "opacity": 1, "shape": "M-0.7,-0.42L0.7,-0.42L0.7,0.42L-0.7,0.42Z", "stroke": "#111111", "strokeWidth": 1.5}, "encoding": {"x": {"datum": -0.1, "type": "quantitative", "scale": {"domain": [-0.889, 8.556], "nice": false, "zero": false}, "axis": null}, "color": {"field": "group", "type": "nominal", "legend": null, "scale": {"domain": ["Thl-GH-10717","Tighennif 1954-7-04","Tighennif 1954-7-08","Tighennif 1954-7-05","H. erectus/ergaster","Mauer","Neanderthals","EMH","UPEPIH","RMH","Tabun","Kebara isolated teeth","Dmanisi","ATD6-H1, Gran Dolina","Sima de los Huesos","Qesem","Pesada I","Lazaret I","Grotte du Portel","Grotte du Renne","Sima de las Palomas","Hortus"], "range": ["#9b4fa8","#1010e0","#30c6f2","#a274f2","#f6958a","#3ad8b0","#ee1111","#f03ab4","#38b838","#e0a4ea","#2a2a8e","#f23030","#2c2cb0","#a5774c","#f5a315","#9a3e98","#f07ee6","#c85a48","#40d6f2","#f0a038","#22e822","#6f9be6"]}}}},
  {"transform": [{"filter": {"field": "group", "oneOf": ["Thl-GH-10717","Tighennif 1954-7-04","Tighennif 1954-7-08","Tighennif 1954-7-05","Kebara isolated teeth","Lazaret I","Hortus"]}}], "mark": {"type": "point", "filled": true, "size": 400, "opacity": 1, "strokeWidth": 0}, "encoding": {"x": {"datum": -0.1, "type": "quantitative", "scale": {"domain": [-0.889, 8.556], "nice": false, "zero": false}, "axis": null}, "color": {"field": "group", "type": "nominal", "legend": null, "scale": {"domain": ["Thl-GH-10717","Tighennif 1954-7-04","Tighennif 1954-7-08","Tighennif 1954-7-05","H. erectus/ergaster","Mauer","Neanderthals","EMH","UPEPIH","RMH","Tabun","Kebara isolated teeth","Dmanisi","ATD6-H1, Gran Dolina","Sima de los Huesos","Qesem","Pesada I","Lazaret I","Grotte du Portel","Grotte du Renne","Sima de las Palomas","Hortus"], "range": ["#9b4fa8","#1010e0","#30c6f2","#a274f2","#f6958a","#3ad8b0","#ee1111","#f03ab4","#38b838","#e0a4ea","#2a2a8e","#f23030","#2c2cb0","#a5774c","#f5a315","#9a3e98","#f07ee6","#c85a48","#40d6f2","#f0a038","#22e822","#6f9be6"]}}, "shape": {"field": "group", "type": "nominal", "legend": null, "scale": {"domain": ["Thl-GH-10717","Tighennif 1954-7-04","Tighennif 1954-7-08","Tighennif 1954-7-05","H. erectus/ergaster","Mauer","Neanderthals","EMH","UPEPIH","RMH","Tabun","Kebara isolated teeth","Dmanisi","ATD6-H1, Gran Dolina","Sima de los Huesos","Qesem","Pesada I","Lazaret I","Grotte du Portel","Grotte du Renne","Sima de las Palomas","Hortus"], "range": ["M-1,-0.9L-0.35,-0.9L0,-0.4L0.35,-0.9L1,-0.9L0.42,0L1,0.9L0.35,0.9L0,0.4L-0.35,0.9L-1,0.9L-0.42,0Z","M-0.3,-0.9L0.3,-0.9L0.3,-0.3L0.9,-0.3L0.9,0.3L0.3,0.3L0.3,0.9L-0.3,0.9L-0.3,0.3L-0.9,0.3L-0.9,-0.3L-0.3,-0.3Z","M-0.3,-0.9L0.3,-0.9L0.3,-0.3L0.9,-0.3L0.9,0.3L0.3,0.3L0.3,0.9L-0.3,0.9L-0.3,0.3L-0.9,0.3L-0.9,-0.3L-0.3,-0.3Z","M-0.3,-0.9L0.3,-0.9L0.3,-0.3L0.9,-0.3L0.9,0.3L0.3,0.3L0.3,0.9L-0.3,0.9L-0.3,0.3L-0.9,0.3L-0.9,-0.3L-0.3,-0.3Z","M-0.75,0L0.75,0M0,-0.75L0,0.75M-0.53,-0.53L0.53,0.53M-0.53,0.53L0.53,-0.53","M-0.7,0L0.7,0M-0.45,-0.55L0.45,0.55M-0.45,0.55L0.45,-0.55","square","square","square","square","M0,-0.65L0,0.65M-0.56,-0.33L0.56,0.33M-0.56,0.33L0.56,-0.33","M-0.9,-0.65L0.9,-0.65L0,0.75Z","M-0.7,0.85L0,-0.85L0.7,0.85","M-0.9,0L0.9,0M0,-0.9L0,0.9","square","M0.6,0A0.6,0.6 0 1,1 -0.6,0A0.6,0.6 0 1,1 0.6,0ZM-0.42,-0.42L0.42,0.42M-0.42,0.42L0.42,-0.42","M0,-0.7L0.7,0L0,0.7L-0.7,0Z","M-0.85,0.65L0.85,0.65L0,-0.75Z","M-0.2,-0.65L-0.35,0.65M0.35,-0.65L0.2,0.65M-0.5,-0.2L0.5,-0.2M-0.55,0.25L0.45,0.25","circle","M-0.4,-0.4L0.4,-0.4L0.4,0.4L-0.4,0.4ZM-0.4,-0.4L-0.65,-0.65M0.4,-0.4L0.65,-0.65M0.4,0.4L0.65,0.65M-0.4,0.4L-0.65,0.65","M-0.55,-0.55L0.55,-0.55L0.55,0.55L-0.55,0.55Z"]}}}},
  {"transform": [{"filter": {"field": "group", "oneOf": ["H. erectus/ergaster","Mauer","Tabun","Dmanisi","ATD6-H1, Gran Dolina","Qesem","Pesada I","Grotte du Portel"]}}], "mark": {"type": "point", "filled": false, "size": 400, "opacity": 1, "strokeWidth": 1.8}, "encoding": {"x": {"datum": -0.1, "type": "quantitative", "scale": {"domain": [-0.889, 8.556], "nice": false, "zero": false}, "axis": null}, "color": {"field": "group", "type": "nominal", "legend": null, "scale": {"domain": ["Thl-GH-10717","Tighennif 1954-7-04","Tighennif 1954-7-08","Tighennif 1954-7-05","H. erectus/ergaster","Mauer","Neanderthals","EMH","UPEPIH","RMH","Tabun","Kebara isolated teeth","Dmanisi","ATD6-H1, Gran Dolina","Sima de los Huesos","Qesem","Pesada I","Lazaret I","Grotte du Portel","Grotte du Renne","Sima de las Palomas","Hortus"], "range": ["#9b4fa8","#1010e0","#30c6f2","#a274f2","#f6958a","#3ad8b0","#ee1111","#f03ab4","#38b838","#e0a4ea","#2a2a8e","#f23030","#2c2cb0","#a5774c","#f5a315","#9a3e98","#f07ee6","#c85a48","#40d6f2","#f0a038","#22e822","#6f9be6"]}}, "shape": {"field": "group", "type": "nominal", "legend": null, "scale": {"domain": ["Thl-GH-10717","Tighennif 1954-7-04","Tighennif 1954-7-08","Tighennif 1954-7-05","H. erectus/ergaster","Mauer","Neanderthals","EMH","UPEPIH","RMH","Tabun","Kebara isolated teeth","Dmanisi","ATD6-H1, Gran Dolina","Sima de los Huesos","Qesem","Pesada I","Lazaret I","Grotte du Portel","Grotte du Renne","Sima de las Palomas","Hortus"], "range": ["M-1,-0.9L-0.35,-0.9L0,-0.4L0.35,-0.9L1,-0.9L0.42,0L1,0.9L0.35,0.9L0,0.4L-0.35,0.9L-1,0.9L-0.42,0Z","M-0.3,-0.9L0.3,-0.9L0.3,-0.3L0.9,-0.3L0.9,0.3L0.3,0.3L0.3,0.9L-0.3,0.9L-0.3,0.3L-0.9,0.3L-0.9,-0.3L-0.3,-0.3Z","M-0.3,-0.9L0.3,-0.9L0.3,-0.3L0.9,-0.3L0.9,0.3L0.3,0.3L0.3,0.9L-0.3,0.9L-0.3,0.3L-0.9,0.3L-0.9,-0.3L-0.3,-0.3Z","M-0.3,-0.9L0.3,-0.9L0.3,-0.3L0.9,-0.3L0.9,0.3L0.3,0.3L0.3,0.9L-0.3,0.9L-0.3,0.3L-0.9,0.3L-0.9,-0.3L-0.3,-0.3Z","M-0.75,0L0.75,0M0,-0.75L0,0.75M-0.53,-0.53L0.53,0.53M-0.53,0.53L0.53,-0.53","M-0.7,0L0.7,0M-0.45,-0.55L0.45,0.55M-0.45,0.55L0.45,-0.55","square","square","square","square","M0,-0.65L0,0.65M-0.56,-0.33L0.56,0.33M-0.56,0.33L0.56,-0.33","M-0.9,-0.65L0.9,-0.65L0,0.75Z","M-0.7,0.85L0,-0.85L0.7,0.85","M-0.9,0L0.9,0M0,-0.9L0,0.9","square","M0.6,0A0.6,0.6 0 1,1 -0.6,0A0.6,0.6 0 1,1 0.6,0ZM-0.42,-0.42L0.42,0.42M-0.42,0.42L0.42,-0.42","M0,-0.7L0.7,0L0,0.7L-0.7,0Z","M-0.85,0.65L0.85,0.65L0,-0.75Z","M-0.2,-0.65L-0.35,0.65M0.35,-0.65L0.2,0.65M-0.5,-0.2L0.5,-0.2M-0.55,0.25L0.45,0.25","circle","M-0.4,-0.4L0.4,-0.4L0.4,0.4L-0.4,0.4ZM-0.4,-0.4L-0.65,-0.65M0.4,-0.4L0.65,-0.65M0.4,0.4L0.65,0.65M-0.4,0.4L-0.65,0.65","M-0.55,-0.55L0.55,-0.55L0.55,0.55L-0.55,0.55Z"]}}}},
  {"transform": [{"filter": {"field": "group", "equal": "Sima de las Palomas"}}], "mark": {"type": "point", "filled": false, "size": 256, "opacity": 1, "strokeWidth": 1.6, "xOffset": 12, "yOffset": -3, "shape": "M-0.4,-0.4L0.4,-0.4L0.4,0.4L-0.4,0.4ZM-0.4,-0.4L-0.65,-0.65M0.4,-0.4L0.65,-0.65M0.4,0.4L0.65,0.65M-0.4,0.4L-0.65,0.65", "color": "#22e822"}, "encoding": {"x": {"datum": -0.1, "type": "quantitative", "scale": {"domain": [-0.889, 8.556], "nice": false, "zero": false}, "axis": null}}},
  {"transform": [{"filter": {"field": "group", "equal": "Grotte du Renne"}}], "mark": {"type": "text", "text": "§", "fontSize": 22, "color": "#f0a038"}, "encoding": {"x": {"datum": -0.1, "type": "quantitative", "scale": {"domain": [-0.889, 8.556], "nice": false, "zero": false}, "axis": null}}}
 ]
}
],
"spacing": 10,
"center": true
}
